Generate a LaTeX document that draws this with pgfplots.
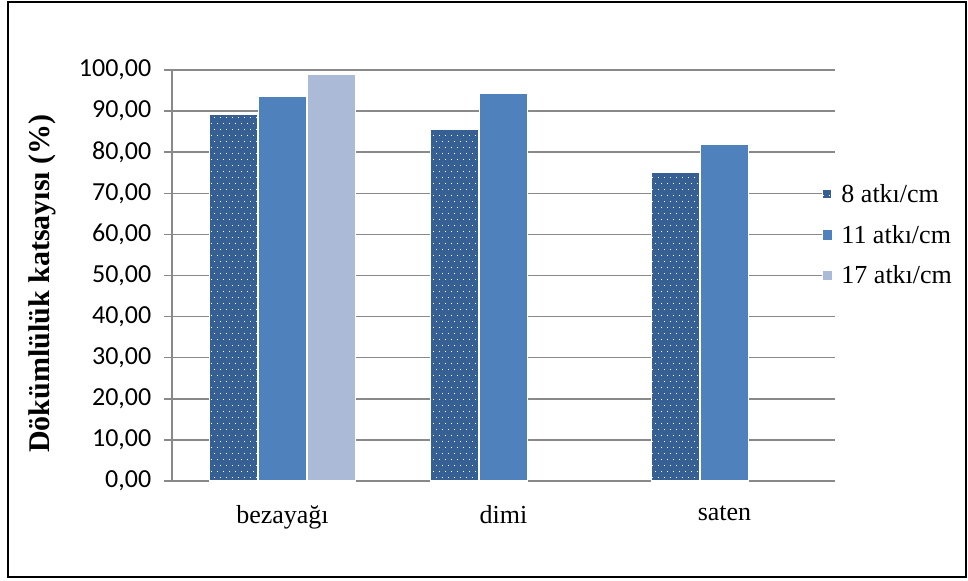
\documentclass[border=0pt]{standalone}
\usepackage{fontspec}
\setmainfont{Liberation Serif}
\newfontfamily\calibri{Carlito}
\usepackage{pgfplots}
\pgfplotsset{compat=1.18}
\usetikzlibrary{patterns.meta}
\definecolor{cA}{RGB}{54,95,147}
\definecolor{cB}{RGB}{79,129,189}
\definecolor{cC}{RGB}{170,186,215}
\definecolor{gridgray}{RGB}{137,137,137}
\tikzdeclarepattern{
  name=wdots,
  type=uncolored,
  bottom left={(-.1pt,-.1pt)},
  top right={(4.6pt,9.1pt)},
  tile size={(4.5pt,9pt)},
  code={
    \fill (0.5pt,0.5pt) rectangle (1.85pt,1.85pt);
    \fill (2.75pt,5pt) rectangle (4.1pt,6.35pt);
  }
}
\tikzset{
  s8/.style={fill=cA, draw=white, line width=0.8pt, postaction={pattern={wdots}, pattern color=white}},
  s11/.style={fill=cB, draw=white, line width=0.8pt},
  s17/.style={fill=cC, draw=white, line width=0.8pt},
}
\begin{document}
\begin{tikzpicture}
\begin{axis}[
  scale only axis,
  width=497.25pt, height=308.25pt,
  ybar=0.75pt, bar width=36pt,
  xmin=-0.5, xmax=2.5,
  ymin=0, ymax=100,
  ytick={0,10,...,100},
  yticklabels={{0,00},{10,00},{20,00},{30,00},{40,00},{50,00},{60,00},{70,00},{80,00},{90,00},{100,00}},
  xtick={0,1,2},
  xticklabels={bezayağı,dimi,saten},
  axis x line*=bottom, axis y line*=left,
  axis line style={gridgray, line width=1.1pt},
  ymajorgrids, grid style={gridgray, line width=1.1pt},
  xtick style={draw=none},
  ytick style={gridgray, line width=1.1pt},
  tick align=outside, major tick length=6pt,
  yticklabel style={font=\calibri\fontsize{19.5}{22}\selectfont, xshift=-6pt},
  xticklabel style={font=\fontsize{19.5}{22}\selectfont, yshift=-9pt},
  ylabel={Dökümlülük katsayısı (\%)},
  ylabel style={font=\bfseries\fontsize{22.5}{26}\selectfont, at={(axis description cs:-0.196,0.4805)}, anchor=center},
  legend style={at={(0.98,0.5985)}, anchor=west, draw=none, fill=white, inner xsep=0pt, inner ysep=2pt,
    font=\fontsize{19.5}{23}\selectfont, row sep=11.5pt,
    /tikz/every odd column/.style={column sep=5pt}},
  legend cell align=left,
  clip=false,
]
\addplot[s8, legend image code/.code={\path[s8, draw=none] (0pt,-3.4pt) rectangle (6.8pt,3.4pt);}] coordinates {(0,89.1) (1,85.6) (2,75.1)};
\addplot[s11, legend image code/.code={\path[s11, draw=none] (0pt,-3.4pt) rectangle (6.8pt,3.4pt);}] coordinates {(0,93.6) (1,94.2) (2,81.8)};
\addplot[s17, legend image code/.code={\path[s17, draw=none] (0pt,-3.4pt) rectangle (6.8pt,3.4pt);}] coordinates {(0,98.9)};
\legend{8 atkı/cm, 11 atkı/cm, 17 atkı/cm}
\draw[black, line width=1.5pt] (rel axis cs:-0.2474,1.1655) rectangle (rel axis cs:1.1976,-0.2336);
\coordinate (bbA) at (rel axis cs:-0.2594,-0.2433);
\coordinate (bbB) at (rel axis cs:1.2006,1.1703);
\end{axis}
\pgfresetboundingbox
\path[use as bounding box] (bbA) rectangle (bbB);
\end{tikzpicture}
\end{document}
